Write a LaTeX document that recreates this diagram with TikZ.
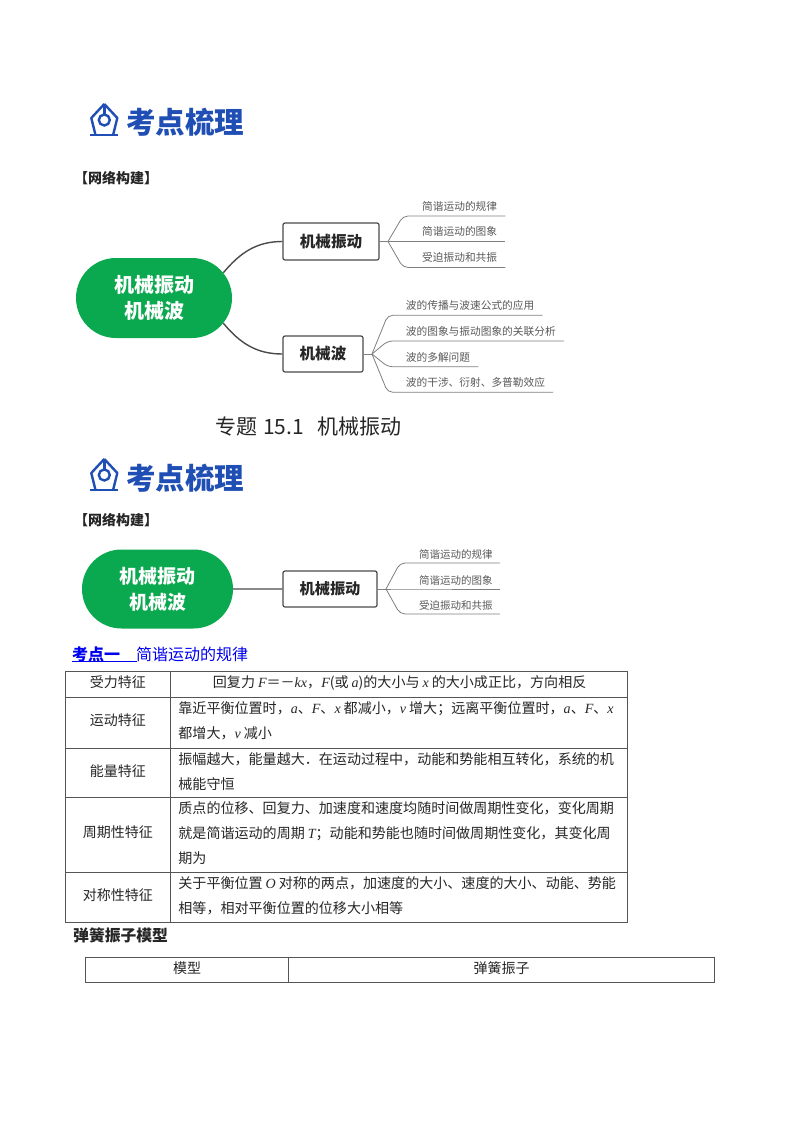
\documentclass[tikz,border=0pt]{standalone}
\usepackage{fontspec}
\usepackage{xcolor}
\usetikzlibrary{shapes.misc}
\setmainfont{Noto Sans CJK SC}
\newfontfamily\latinfont{Liberation Serif}
\newcommand{\lat}[1]{{\latinfont\itshape #1}}
\newcommand{\lats}[1]{\hspace{3pt}\lat{#1}\hspace{3pt}}
\newcommand{\latr}[1]{\lat{#1}\hspace{3pt}}
\newcommand{\px}[1]{\fontsize{#1}{#1}\selectfont}
\definecolor{nibblue}{HTML}{1F4FB4}
\definecolor{ovalgreen}{HTML}{0BA94F}
\definecolor{linkblue}{HTML}{0000F0}
\definecolor{trunkgrey}{HTML}{4A4A4A}
\definecolor{twiggrey}{HTML}{808080}
\definecolor{leafgrey}{HTML}{595959}
\definecolor{gridgrey}{HTML}{555555}
\definecolor{inkgrey}{HTML}{262626}
\tikzset{
  pics/nibicon/.style={code={
    \draw[nibblue,line width=2.4,line join=round] (0,-16) -- (-13,-2) -- (-8.8,15) (0,-16) -- (13,-2) -- (8.8,15);
    \draw[nibblue,line width=2.4] (-14,15) -- (14,15);
    \draw[nibblue,line width=2.4] (0,-16) -- (0,-5.5);
    \draw[nibblue,line width=2.4] (0,0) circle (5.5);
  }},
  headline/.style={text=nibblue,font=\px{29.5}\bfseries,anchor=west,inner sep=0},
  subhead/.style={font=\px{14}\bfseries,anchor=west,inner sep=0,text=inkgrey},
  ovalnode/.style={rounded rectangle,fill=ovalgreen,text=white,align=center,inner sep=0},
  boxnode/.style={draw=trunkgrey,line width=1.2,rounded corners=2,fill=white,text=inkgrey,inner sep=0},
  leafnode/.style={text=leafgrey,font=\px{10.7},inner sep=0,minimum height=19,anchor=south west},
  trunk/.style={draw=trunkgrey,line width=1.4},
  twig/.style={draw=twiggrey,line width=0.8,rounded corners=5},
  gridcell/.style={draw=gridgrey,line width=0.9,inner sep=0,anchor=north west},
  celltext/.style={text=inkgrey,font=\fontsize{14.05}{25}\selectfont,inner sep=0,anchor=north west,align=left},
  headtext/.style={text=inkgrey,font=\px{14},inner sep=0},
}
\begin{document}
\begin{tikzpicture}[x=1pt,y=-1pt]
\useasboundingbox (0,0) rectangle (800,1132);
\fill[white] (0,0) rectangle (800,1132);

% first map
\pic at (104.3,120) {nibicon};
\node[headline] (headA) at (126,122) {考点梳理};
\node[subhead] (subA) at (74,178) {【网络构建】};
\node[ovalnode,minimum width=156,minimum height=80,font=\px{20}\bfseries] (ovalA) at (154,298) {机械振动\\[5.5pt]机械波};
\node[boxnode,minimum width=96,minimum height=37,font=\px{15.6}\bfseries] (boxA) at (331,241.5) {机械振动};
\node[boxnode,minimum width=80,minimum height=36,font=\px{15.6}\bfseries] (boxB) at (323,354) {机械波};
\draw[trunk] (ovalA.20) to[out=50,in=180] (boxA.west);
\draw[trunk] (ovalA.-20) to[out=-50,in=180] (boxB.west);
\coordinate (forkA) at (388,241.5);
\coordinate (forkB) at (372,354);
\draw[twig] (boxA.east) -- (forkA);
\draw[twig] (boxB.east) -- (forkB);
\foreach \txt/\pos/\idx in {简谐运动的规律/216/1,简谐运动的图象/241.5/2,受迫振动和共振/267.5/3}
{ \node[leafnode] (leafA\idx) at (422,\pos) {\txt};
  \draw[twig] (forkA) -- ([xshift=-19]leafA\idx.south west) -- ([xshift=8]leafA\idx.south east);}
\foreach \txt/\pos/\idx in {波的传播与波速公式的应用/315.3/1,波的图象与振动图象的关联分析/341/2,波的多解问题/366.7/3,波的干涉、衍射、多普勒效应/392.3/4}
{ \node[leafnode] (leafB\idx) at (405.7,\pos) {\txt};
  \draw[twig] (forkB) -- ([xshift=-18]leafB\idx.south west) -- ([xshift=8]leafB\idx.south east);}

\node[inner sep=0,anchor=west,text=inkgrey,font=\px{21}] (title) at (215,427) {专题\hspace{6pt}15.1\hspace{14pt}机械振动};

% second map
\pic at (104.3,475) {nibicon};
\node[headline] (headB) at (126,478) {考点梳理};
\node[subhead] (subB) at (74,520) {【网络构建】};
\node[ovalnode,minimum width=151,minimum height=79,font=\px{19}\bfseries] (ovalC) at (157.5,589) {机械振动\\[7pt]机械波};
\node[boxnode,minimum width=94,minimum height=36,font=\px{15.2}\bfseries] (boxC) at (330,589) {机械振动};
\draw[trunk] (ovalC) -- (boxC);
\coordinate (forkC) at (386,589);
\draw[twig] (boxC.east) -- (forkC);
\foreach \txt/\pos/\idx in {简谐运动的规律/563/1,简谐运动的图象/589/2,受迫振动和共振/614/3}
{ \node[leafnode,font=\px{10.5},minimum height=17.5] (leafC\idx) at (419,\pos) {\txt};
  \draw[twig] (forkC) -- ([xshift=-19]leafC\idx.south west) -- ([xshift=7]leafC\idx.south east);}

% first table
\node[inner sep=0,anchor=west,text=linkblue,font=\px{16}] (pointA) at (72,654) {\textbf{考点一}\hspace{16pt}简谐运动的规律};
\coordinate (pointEnd) at (137,661);
\draw[linkblue,line width=1] (pointA.west |- pointEnd) -- (pointEnd);
\foreach \name/\ytop/\rowh/\head/\body/\cx in {
  rowA/671/25.7/受力特征/{回复力\hspace{3pt}\lat{F}＝－\lat{kx}，\lat{F}(或\hspace{3pt}\lat{a})的大小与\lats{x}的大小成正比，方向相反}/42.5,
  rowB/696.7/51.6/运动特征/{靠近平衡位置时，\lat{a}、\lat{F}、\latr{x}都减小，\latr{v}增大；远离平衡位置时，\lat{a}、\lat{F}、\lat{x}\\都增大，\latr{v}减小}/8,
  rowC/748.3/49/能量特征/{振幅越大，能量越大．在运动过程中，动能和势能相互转化，系统的机\\械能守恒}/8,
  rowD/797.3/74.4/周期性特征/{质点的位移、回复力、加速度和速度均随时间做周期性变化，变化周期\\就是简谐运动的周期\hspace{3pt}\lat{T}；动能和势能也随时间做周期性变化，其变化周\\期为}/8,
  rowE/871.7/50.6/对称性特征/{关于平衡位置\lats{O}对称的两点，加速度的大小、速度的大小、动能、势能\\相等，相对平衡位置的位移大小相等}/8}
{ \node[gridcell,minimum width=105.7,minimum height=\rowh] (\name L) at (64.5,\ytop) {};
  \node[gridcell,minimum width=456.6,minimum height=\rowh] (\name R) at (170.2,\ytop) {};
  \node[headtext] (\name H) at ([yshift=2.5]\name L.center) {\head};
  \node[celltext] (\name T) at ([xshift=\cx,yshift=-4.5]\name R.north west) {\body};}

% second table
\node[inner sep=0,anchor=west,text=inkgrey,font=\px{15.8}\bfseries] (modelTitle) at (73,935) {弹簧振子模型};
\node[gridcell,minimum width=203,minimum height=25] (modelL) at (85.2,957) {};
\node[gridcell,minimum width=426,minimum height=25] (modelR) at (288.2,957) {};
\node[headtext] (modelLT) at ([yshift=2]modelL.center) {模型};
\node[headtext] (modelRT) at ([yshift=2]modelR.center) {弹簧振子};
\end{tikzpicture}
\end{document}
